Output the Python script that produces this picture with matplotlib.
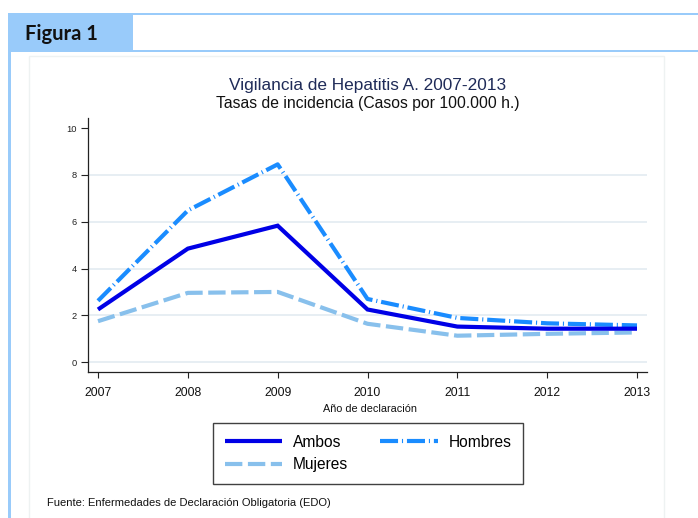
import matplotlib
matplotlib.use("Agg")
import matplotlib.pyplot as plt
from matplotlib.lines import Line2D
from matplotlib.patches import Rectangle

plt.rcParams['font.family'] = ['Liberation Sans', 'DejaVu Sans']
plt.rcParams['lines.scale_dashes'] = False

years = [2007, 2008, 2009, 2010, 2011, 2012, 2013]
ambos = [2.25, 4.85, 5.83, 2.25, 1.52, 1.43, 1.43]
hombres = [2.62, 6.48, 8.45, 2.70, 1.89, 1.66, 1.57]
mujeres = [1.75, 2.96, 3.00, 1.64, 1.13, 1.21, 1.27]
yticks = [0, 2, 4, 6, 8, 10]
series_names = ["Ambos", "Hombres", "Mujeres"]

W, H = 698, 518
fig = plt.figure(figsize=(W / 100, H / 100), dpi=100)


def fx(px):
    return px / W


def fy(py):
    return 1 - py / H


def rect(x0, y0, x1, y1, **kw):
    fig.patches.append(Rectangle((fx(x0), fy(y1)), fx(x1) - fx(x0), fy(y0) - fy(y1),
                                 transform=fig.transFigure, **kw))


hdr = '#99cbfa'
# inner faint frame
rect(29, 56, 664, 530, facecolor='none', edgecolor='#eef2f2', linewidth=1)
# header lines and box
rect(8, 13, 698, 15, facecolor=hdr, edgecolor='none')
rect(8, 50, 698, 52, facecolor=hdr, edgecolor='none')
rect(8, 13, 133, 51, facecolor=hdr, edgecolor='none')
rect(8, 13, 11, 518, facecolor=hdr, edgecolor='none')
fig.text(fx(25), fy(40), "Figura 1", fontsize=14.5, fontweight='bold',
         family=['Lato', 'DejaVu Sans'], color='#111111', ha='left', va='baseline')

ax = fig.add_axes([fx(88), fy(372), fx(647) - fx(88), fy(118) - fy(372)])
ax.set_xlim(2007 - 10 / 89.83, 2013 + 10 / 89.83)
ax.set_ylim(-0.42, 10.43)

for v in yticks[:-1]:
    ax.axhline(v, color='#e3ebf1', linewidth=1.2, zorder=0)

l_amb, = ax.plot(years, ambos, color='#0000e6', linewidth=3, solid_capstyle='butt',
                 solid_joinstyle='miter', zorder=3)
l_hom, = ax.plot(years, hombres, color='#1a8cff', linewidth=3,
                 dashes=(13, 2.8, 0.8, 2.8), dash_capstyle='butt', zorder=2)
l_muj, = ax.plot(years, mujeres, color='#88c0ec', linewidth=3,
                 dashes=(12.5, 4), dash_capstyle='butt', zorder=1)

ax.set_xticks(years)
ax.set_xticklabels([str(y) for y in years], fontsize=8.7)
ax.set_yticks(yticks)
ax.set_yticklabels([str(v) for v in yticks], fontsize=6.7)
ax.tick_params(axis='y', length=5, width=0.8, pad=3, color='#222222', labelcolor='#222222')
ax.tick_params(axis='x', length=4.5, width=0.8, pad=6, color='#222222', labelcolor='#111111')
for s in ['top', 'right']:
    ax.spines[s].set_visible(False)
for s in ['left', 'bottom']:
    ax.spines[s].set_color('#222222')
    ax.spines[s].set_linewidth(0.9)

cx = fx((88 + 647) / 2)
fig.text(cx, fy(90), "Vigilancia de Hepatitis A. 2007-2013", fontsize=12.4,
         color='#1f2b58', ha='center', va='baseline')
fig.text(cx, fy(107.7), "Tasas de incidencia (Casos por 100.000 h.)", fontsize=11.3,
         color='#111111', ha='center', va='baseline')
fig.text(fx(370), fy(411.5), "Año de declaración", fontsize=7.8, color='#111111',
         ha='center', va='baseline')
fig.text(fx(47), fy(506), "Fuente: Enfermedades de Declaración Obligatoria (EDO)",
         fontsize=8, color='#111111', ha='left', va='baseline')

handles = [l_amb, l_muj, l_hom]
labels = [series_names[0], series_names[2], series_names[1]]
leg = fig.legend(handles, labels, ncol=2, loc='upper left',
                 bbox_to_anchor=(fx(213), fy(423)),
                 bbox_transform=fig.transFigure,
                 fontsize=11.2, frameon=True, fancybox=False, handlelength=3.7,
                 handletextpad=0.7, columnspacing=2.05, labelspacing=0.5,
                 borderpad=0.75, borderaxespad=0)
leg.get_frame().set_edgecolor('#111111')
leg.get_frame().set_linewidth(1.0)

fig.savefig("out.png", dpi=100)
